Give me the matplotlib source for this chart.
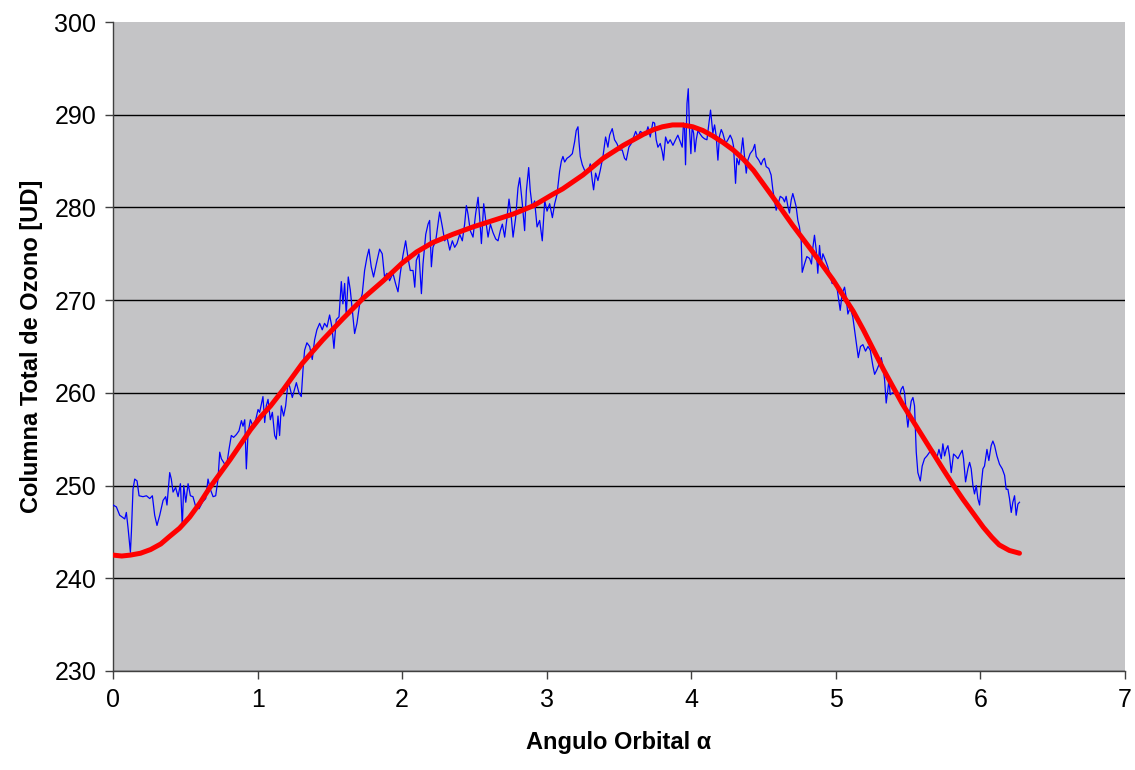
import matplotlib
matplotlib.use('Agg')
import matplotlib.pyplot as plt

# medicion (linea azul): angulo orbital y columna total de ozono
alpha_med = [
    0.000, 0.023, 0.046, 0.081, 0.092, 0.104, 0.120, 0.127, 0.138, 0.150,
    0.166, 0.180, 0.207, 0.231, 0.254, 0.272, 0.288, 0.304, 0.323, 0.346,
    0.364, 0.373, 0.392, 0.403, 0.415, 0.433, 0.450, 0.466, 0.479, 0.489,
    0.503, 0.519, 0.535, 0.553, 0.572, 0.595, 0.618, 0.641, 0.657, 0.673,
    0.692, 0.710, 0.726, 0.738, 0.749, 0.765, 0.784, 0.802, 0.818, 0.834,
    0.853, 0.871, 0.888, 0.899, 0.911, 0.922, 0.934, 0.950, 0.968, 0.987,
    1.003, 1.014,
    1.037, 1.049, 1.060, 1.072, 1.088, 1.102, 1.118, 1.129, 1.141, 1.152,
    1.164, 1.180, 1.194, 1.210, 1.221, 1.240, 1.256, 1.268, 1.286, 1.302,
    1.314, 1.325, 1.341, 1.360, 1.378, 1.394, 1.410, 1.429, 1.447, 1.463,
    1.480, 1.498, 1.514, 1.528, 1.544, 1.563, 1.579, 1.590, 1.602, 1.613,
    1.627, 1.641, 1.655, 1.671, 1.687, 1.706, 1.724, 1.740, 1.756, 1.770,
    1.786, 1.802, 1.821, 1.844, 1.862, 1.878, 1.895, 1.913, 1.936, 1.954,
    1.971, 1.987, 2.005, 2.024, 2.040, 2.056,
    2.075, 2.087, 2.098, 2.116, 2.133, 2.144, 2.163, 2.179, 2.190, 2.202,
    2.213, 2.232, 2.248, 2.259, 2.278, 2.294, 2.310, 2.329, 2.347, 2.363,
    2.379, 2.398, 2.416, 2.432, 2.444, 2.455, 2.471, 2.490, 2.508, 2.525,
    2.536, 2.548, 2.564, 2.578, 2.594, 2.610, 2.628, 2.647, 2.663, 2.679,
    2.693, 2.709, 2.725, 2.739, 2.755, 2.767, 2.785, 2.801, 2.813, 2.831,
    2.847, 2.859, 2.875, 2.886, 2.900, 2.916, 2.933, 2.951, 2.969, 2.986,
    3.002, 3.020, 3.039, 3.055, 3.071, 3.089, 3.101,
    3.112, 3.124, 3.140, 3.158, 3.177, 3.193, 3.204, 3.216, 3.223, 3.232,
    3.246, 3.262, 3.285, 3.301, 3.315, 3.324, 3.338, 3.354, 3.370, 3.389,
    3.407, 3.423, 3.435, 3.453, 3.469, 3.485, 3.504, 3.522, 3.538, 3.550,
    3.568, 3.585, 3.601, 3.615, 3.631, 3.647, 3.665, 3.684, 3.700, 3.716,
    3.734, 3.746, 3.757, 3.769, 3.785, 3.799, 3.808, 3.822, 3.838, 3.854,
    3.873, 3.891, 3.907, 3.923, 3.937, 3.946, 3.953, 3.960, 3.970, 3.979,
    3.988, 3.997, 4.006, 4.016, 4.025, 4.034, 4.046, 4.057, 4.076, 4.092,
    4.108, 4.126, 4.133,
    4.149, 4.161, 4.172, 4.184, 4.195, 4.207, 4.218, 4.237, 4.253, 4.269,
    4.283, 4.292, 4.306, 4.315, 4.329, 4.345, 4.356, 4.368, 4.380, 4.391,
    4.407, 4.426, 4.439, 4.449, 4.467, 4.483, 4.495, 4.506, 4.518, 4.536,
    4.552, 4.564, 4.575, 4.587, 4.601, 4.615, 4.633, 4.645, 4.656, 4.668,
    4.679, 4.691, 4.702, 4.714, 4.725, 4.737, 4.748, 4.760, 4.767, 4.783,
    4.799, 4.818, 4.831, 4.841, 4.852, 4.864, 4.875, 4.887, 4.898, 4.910,
    4.928, 4.944, 4.956, 4.974, 4.990, 5.007, 5.020, 5.030, 5.043, 5.060,
    5.071, 5.083, 5.099, 5.117, 5.140, 5.155, 5.170,
    5.187, 5.205, 5.222, 5.238, 5.256, 5.268, 5.284, 5.302, 5.314, 5.325,
    5.337, 5.348, 5.360, 5.367, 5.376, 5.390, 5.406, 5.422, 5.436, 5.452,
    5.464, 5.475, 5.487, 5.498, 5.510, 5.521, 5.533, 5.544, 5.556, 5.567,
    5.584, 5.597, 5.613, 5.630, 5.648, 5.666, 5.683, 5.694, 5.713, 5.729,
    5.740, 5.752, 5.763, 5.775, 5.786, 5.798, 5.814, 5.828, 5.844, 5.860,
    5.874, 5.883, 5.897, 5.913, 5.925, 5.936, 5.948, 5.959, 5.971, 5.982,
    5.994, 6.005, 6.017, 6.028, 6.045, 6.058, 6.074, 6.086, 6.098, 6.114,
    6.132, 6.151, 6.167, 6.178, 6.190, 6.201, 6.213, 6.224, 6.236, 6.247,
    6.259, 6.270,
]
ozono_med = [
    247.9, 247.7, 246.8, 246.4, 247.1, 245.4, 242.8, 245.0, 249.6, 250.7,
    250.5, 248.9, 248.8, 248.9, 248.6, 248.9, 246.8, 245.7, 246.8, 248.4,
    248.8, 247.9, 251.4, 250.7, 249.3, 249.8, 248.8, 250.2, 245.6, 250.0,
    248.2, 250.2, 248.9, 248.8, 247.7, 247.5, 248.2, 248.6, 250.7, 249.6,
    248.8, 248.9, 250.7, 253.6, 252.9, 252.5, 252.0, 253.9, 255.4, 255.2,
    255.5, 255.9, 257.0, 256.4, 257.1, 251.8, 255.7, 257.1, 256.4, 257.1,
    258.2, 257.9,
    259.6, 256.8, 258.6, 259.3, 257.1, 257.9, 255.4, 255.0, 257.5, 255.4,
    258.6, 257.5, 258.6, 261.1, 260.7, 259.5, 260.4, 261.1, 260.0, 259.6,
    262.5, 264.6, 265.4, 265.0, 263.6, 265.7, 266.8, 267.5, 266.8, 267.5,
    267.1, 268.4, 267.1, 264.8, 267.9, 268.2, 272.0, 269.6, 271.8, 268.4,
    272.5, 271.1, 268.9, 266.4, 267.5, 269.6, 270.7, 273.2, 274.6, 275.5,
    273.6, 272.5, 273.9, 275.5, 275.0, 272.5, 272.9, 272.1, 272.9, 271.8,
    270.9, 272.9, 274.8, 276.4, 274.6, 273.2,
    273.2, 271.4, 274.3, 275.0, 270.7, 273.9, 277.1, 278.2, 278.6, 273.6,
    275.7, 276.4, 278.2, 279.5, 277.9, 276.4, 276.8, 275.4, 276.4, 275.7,
    276.1, 277.1, 276.4, 278.2, 280.2, 279.3, 277.5, 276.8, 279.3, 281.1,
    278.9, 276.1, 280.4, 278.6, 276.8, 278.2, 277.3, 276.6, 276.4, 277.5,
    278.2, 276.8, 278.9, 280.9, 278.9, 276.8, 278.9, 282.1, 283.2, 280.4,
    277.5, 281.8, 284.3, 281.8, 280.0, 280.7, 277.9, 278.6, 276.4, 280.7,
    279.6, 280.4, 278.9, 280.4, 281.4, 283.9, 285.0,
    285.5, 284.9, 285.3, 285.5, 285.8, 287.1, 288.3, 288.7, 287.1, 285.5,
    284.6, 284.0, 283.8, 284.7, 282.9, 281.9, 283.7, 282.9, 284.0, 285.5,
    287.6, 286.5, 287.8, 288.5, 287.3, 286.9, 286.2, 286.2, 285.3, 285.1,
    286.5, 286.9, 287.6, 288.2, 287.6, 288.2, 288.0, 287.8, 288.7, 287.6,
    289.2, 289.1, 287.3, 286.5, 286.9, 286.0, 285.1, 287.6, 286.9, 287.3,
    286.7, 287.3, 287.8, 287.1, 286.5, 289.1, 288.7, 284.6, 291.2, 292.8,
    288.3, 285.8, 288.7, 288.0, 286.0, 287.3, 288.3, 288.0, 287.6, 287.4,
    287.3, 289.6, 290.5,
    288.0, 288.9, 287.7, 285.1, 287.7, 288.4, 288.0, 286.9, 287.3, 287.8,
    287.3, 286.6, 282.6, 285.3, 284.6, 286.0, 287.5, 285.5, 283.7, 285.1,
    285.8, 286.2, 286.8, 285.5, 285.1, 284.6, 285.1, 285.3, 284.4, 284.2,
    283.5, 281.9, 280.8, 279.7, 280.4, 281.2, 281.0, 280.6, 281.2, 280.1,
    279.4, 280.8, 281.5, 280.8, 280.1, 278.6, 277.9, 276.5, 273.0, 273.9,
    274.7, 274.5, 273.9, 275.7, 277.0, 275.4, 272.9, 275.9, 273.9, 275.0,
    274.3, 273.6, 272.9, 271.8, 271.8, 271.4, 270.0, 268.9, 270.7, 271.4,
    270.3, 268.5, 269.2, 268.2, 265.5, 263.8, 265.0,
    265.2, 264.5, 265.0, 264.6, 262.9, 262.0, 262.5, 263.2, 263.8, 262.9,
    261.4, 258.9, 260.4, 261.4, 259.8, 260.0, 260.0, 260.2, 259.5, 260.4,
    260.7, 260.0, 257.9, 256.3, 257.9, 259.1, 259.5, 258.6, 253.6, 251.4,
    250.5, 252.1, 252.9, 253.2, 253.6, 253.9, 253.6, 252.7, 253.9, 252.9,
    254.5, 253.2, 253.9, 254.3, 253.2, 251.4, 253.4, 253.2, 252.9, 253.4,
    253.8, 252.9, 250.4, 251.8, 252.5, 251.8, 250.0, 249.1, 250.0, 248.6,
    247.9, 250.0, 251.8, 252.1, 253.9, 252.7, 254.3, 254.8, 254.3, 253.2,
    252.3, 251.8, 251.1, 249.6, 249.6, 248.6, 247.1, 248.2, 248.9, 246.8,
    248.0, 248.2,
]

# ajuste suave (linea roja)
alpha_ajuste = [
    0.00, 0.06, 0.12, 0.19, 0.26, 0.33, 0.39, 0.46, 0.53, 0.60,
    0.67, 0.74, 0.81, 0.88, 0.95, 1.02, 1.09, 1.18, 1.31, 1.45,
    1.59, 1.73, 1.87, 2.00, 2.10, 2.21, 2.35, 2.49, 2.63, 2.77,
    2.91, 3.04, 3.11, 3.25, 3.39, 3.53, 3.60, 3.67, 3.74, 3.80,
    3.87, 3.94, 4.01, 4.08, 4.15, 4.22, 4.29, 4.36, 4.43, 4.56,
    4.70, 4.84, 4.98, 5.12, 5.19, 5.33, 5.46, 5.60, 5.74, 5.81,
    5.88, 5.95, 6.02, 6.08, 6.13, 6.20, 6.27,
]
ozono_ajuste = [
    242.5, 242.4, 242.5, 242.7, 243.1, 243.7, 244.5, 245.4, 246.6, 248.1,
    249.8, 251.3, 252.8, 254.4, 256.0, 257.4, 258.6, 260.4, 263.2, 265.7,
    268.0, 270.2, 272.1, 274.0, 275.2, 276.2, 277.1, 277.9, 278.6, 279.3,
    280.2, 281.4, 282.0, 283.5, 285.3, 286.7, 287.3, 287.9, 288.4, 288.7,
    288.9, 288.9, 288.7, 288.3, 287.7, 287.0, 286.2, 285.2, 284.0, 281.2,
    278.1, 275.2, 272.2, 268.8, 266.8, 262.5, 258.8, 255.3, 251.8, 250.1,
    248.5, 247.0, 245.5, 244.4, 243.6, 243.0, 242.7,
]

plt.rcParams['font.family'] = ['Liberation Sans', 'DejaVu Sans']

fig = plt.figure(figsize=(11.35, 7.7), dpi=100)
ax = fig.add_axes([0.0996, 0.1286, 0.8916, 0.8428])
ax.set_facecolor('#c4c4c6')

ax.plot(alpha_med, ozono_med, color='#0000ff', linewidth=0.9, zorder=3)
ax.plot(alpha_ajuste, ozono_ajuste, color='#ff0000', linewidth=3.6,
        solid_capstyle='round', solid_joinstyle='round', zorder=4)

ax.set_xlim(0, 7)
ax.set_ylim(230, 300)
ax.set_xticks(range(0, 8))
ax.set_yticks(range(230, 301, 10))

ax.yaxis.grid(True, color='black', linewidth=1.0)
ax.get_ygridlines()[-1].set_visible(False)
ax.set_axisbelow(True)

for side in ['top', 'right']:
    ax.spines[side].set_visible(False)
for side in ['left', 'bottom']:
    ax.spines[side].set_color('#404040')
    ax.spines[side].set_linewidth(1.0)

ax.tick_params(axis='both', direction='out', length=6, width=1.0,
               color='#404040', labelsize=18, pad=6)

ax.set_xlabel('Angulo Orbital α', fontsize=17, fontweight='bold', labelpad=14)
ax.set_ylabel('Columna Total de Ozono [UD]', fontsize=17, fontweight='bold', labelpad=8)

fig.savefig('out.png', dpi=100)
